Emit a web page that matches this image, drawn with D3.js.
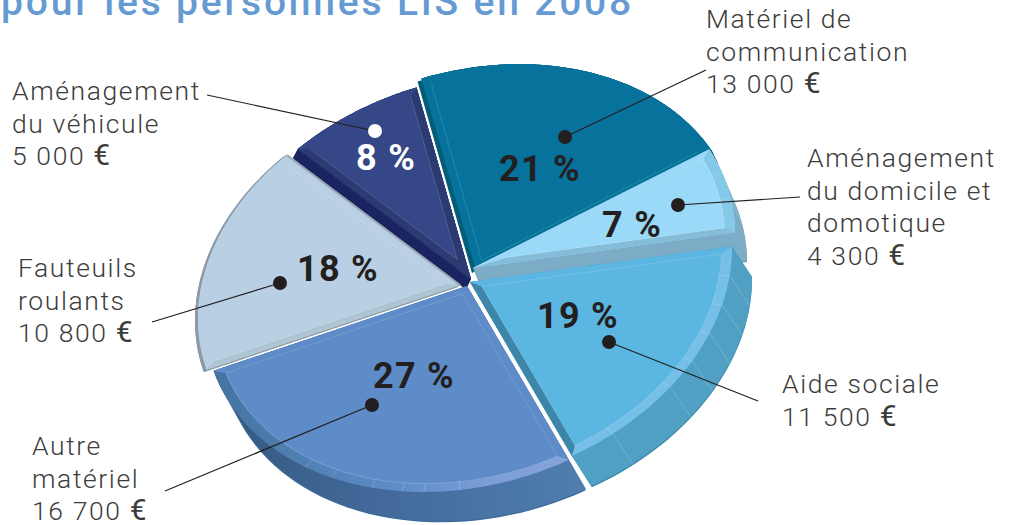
<!DOCTYPE html>
<html>
<head>
<meta charset="utf-8">
<script src="https://cdn.jsdelivr.net/npm/d3@7"></script>
<style>
html, body { margin: 0; padding: 0; background: #fff; overflow: hidden; }
text { font-family: Roboto, sans-serif; }
</style>
</head>
<body>
<svg id="chart" width="1013" height="525"></svg>
<script>
// data
var categories = [
    ["Matériel de", "communication"],
    ["Aménagement", "du domicile et", "domotique"],
    ["Aide sociale"],
    ["Autre", "matériel"],
    ["Fauteuils", "roulants"],
    ["Aménagement", "du véhicule"]
];
var amounts = [13000, 4300, 11500, 16700, 10800, 5000];
var percents = [21, 7, 19, 27, 18, 8];
var titleText = "pour les personnes LIS en 2008";

// layout of each slice
var apex = [[476, 270], [473, 268], [470, 282], [467, 286], [460, 285], [471, 279]];
var sweeps = [[6, 12], [12, 28], [20, 30], [17, 29], [-3, 1], [-5, 9]];
var labelPos = [[706, 28], [807, 167], [782, 393], [32, 455], [18, 277], [12, 100]];
var pctPos = [[540, 168], [632, 224], [578, 315], [414, 375], [338, 268], [386, 157]];
var dotPos = [[565, 137], [678, 205], [609, 342], [372, 405], [280, 283], [375, 131]];
var leaderEnd = [[706, 70], [800, 197], [758, 401], [165, 491], [152, 322], [207, 95]];
var drawOrder = [5, 0, 1, 4, 2, 3];

// colours: face, start band, end band, arc band, side, side edge, lip
var faceColor = ["#07729b", "#9bd9f8", "#5bb6e2", "#5d8cc8", "#b9cfe4", "#354786"];
var startBand = ["#07729b", "#9bd9f8", "#5bb6e2", "#5d8cc8", "#aec5d4", "#2c3a72"];
var endBand = ["#07729b", "#85bcd8", "#3d86a8", "#5d8cc8", "#b9cfe4", "#2c3a72"];
var arcBand = ["#07729b", "#85c9e8", "#76bfe6", "url(#band27)", "#b9cfe4", "#354786"];
var sideColor = ["#045d78", "#7cacc6", "#50a0c4", "url(#side27)", "#8d9aa6", "#1a2460"];
var sideEdge = ["#045d78", "#6f9cb6", "#3a87a8", "#3f6a9c", "#8d9aa6", "#1a2460"];
var facets = [[], [.3, .6], [.12, .24, .36, .48, .6, .85], [.25, .33, .38, .45, .55, .62], [], []];
var wallFacets = [false, true, true, false, false, false];
var arcLine = [false, true, true, true, false, false];
var lip = [[-4, 3, "#045d78"], null, null, null, null, null];

var rx = 262, ry = 203, shear = -34;   // the tilted ellipse of the pie
var insetEdge = 0.03, insetArc = 0.04;

var svg = d3.select("#chart");
var defs = svg.append("defs");
function gradient(id, stops) {
    var g = defs.append("linearGradient").attr("id", id)
        .attr("gradientUnits", "userSpaceOnUse")
        .attr("x1", 215).attr("x2", 575).attr("y1", 0).attr("y2", 0);
    stops.forEach(function(s) {
        g.append("stop").attr("offset", s[0]).attr("stop-color", s[1]);
    });
}
gradient("band27", [[0, "#44749f"], [0.5, "#5d8cc8"], [0.75, "#7b9dd6"], [1, "#86a5d9"]]);
gradient("side27", [[0, "#34597f"], [0.45, "#42699a"], [1, "#4f7dae"]]);

var pie = d3.pie().sort(null)
    .startAngle(-12 * Math.PI / 180)
    .endAngle(348 * Math.PI / 180);
var slices = pie(amounts);
var line = d3.line();

function project(i, r, a) {
    var X = r * Math.sin(a), Y = -r * Math.cos(a);
    return [apex[i][0] + rx * X, apex[i][1] + shear * X + ry * Y];
}
function arcPoints(i, r, a0, a1) {
    return d3.range(0, 41).map(function(k) {
        return project(i, r, a0 + (a1 - a0) * k / 40);
    });
}
function poly(pts, fill) {
    return svg.append("path").attr("d", line(pts) + "Z").attr("fill", fill);
}
function thin(p, q, color, opacity, width) {
    svg.append("line")
        .attr("x1", p[0]).attr("y1", p[1]).attr("x2", q[0]).attr("y2", q[1])
        .attr("stroke", color).attr("stroke-opacity", opacity).attr("stroke-width", width);
}

drawOrder.forEach(function(i) {
    var a0 = slices[i].startAngle, a1 = slices[i].endAngle, mid = (a0 + a1) / 2;
    var half = (a1 - a0) / 2;
    var A = project(i, 0, 0);
    var outer = arcPoints(i, 1, a0, a1);
    var sector = [A].concat(outer);
    var v = sweeps[i];

    // the wall of the slice is the sector swept along the thickness
    function swept(dx, dy) {
        var moved = sector.map(function(p) { return [p[0] + dx, p[1] + dy]; });
        return d3.polygonHull(sector.concat(moved));
    }
    poly(swept(v[0], v[1] + 1.5), sideEdge[i]);
    poly(swept(v[0], v[1]), sideColor[i]);
    if (wallFacets[i]) facets[i].forEach(function(f) {
        var p = project(i, 1, a0 + (a1 - a0) * f);
        thin(p, [p[0] + v[0], p[1] + v[1]], "#fff", .3, .6);
    });
    if (lip[i]) {
        poly(sector.map(function(p) { return [p[0] + lip[i][0], p[1] + lip[i][1]]; }), lip[i][2]);
    }

    // top of the slice with its chamfer
    var ri = 1 - insetArc;
    var dA = Math.asin(insetEdge / ri);
    var inner = project(i, insetEdge / Math.sin(half), mid);
    var innerArc = arcPoints(i, ri, a0 + dA, a1 - dA);
    poly(sector, faceColor[i]);
    poly(outer.concat(innerArc.slice().reverse()), arcBand[i]);
    poly([A, outer[0], innerArc[0], inner], startBand[i]);
    poly([A, outer[40], innerArc[40], inner], endBand[i]);
    poly([inner].concat(innerArc), faceColor[i]);
    thin(inner, innerArc[0], "#fff", .25, .6);
    thin(inner, innerArc[40], "#fff", .25, .6);
    if (arcLine[i]) {
        svg.append("path").attr("d", line(innerArc)).attr("fill", "none")
            .attr("stroke", "#fff").attr("stroke-opacity", .3).attr("stroke-width", .6);
    }
    facets[i].forEach(function(f) {
        var a = a0 + (a1 - a0) * f;
        thin(project(i, 1, a), project(i, ri, a), "#fff", .3, .6);
    });
    if (i == 4) thin(A, outer[40], "#9aa9b5", 1, 2);
});

// leaders, dots, percents
percents.forEach(function(p, i) {
    var white = i == 5;
    thin(dotPos[i], leaderEnd[i], "#231f20", 1, 1.2);
    svg.append("circle")
        .attr("cx", dotPos[i][0]).attr("cy", dotPos[i][1]).attr("r", 7)
        .attr("fill", white ? "#fff" : "#231f20");
    svg.append("text")
        .attr("x", pctPos[i][0]).attr("y", pctPos[i][1] + 13)
        .attr("text-anchor", "middle")
        .attr("font-size", 36).attr("font-weight", 700)
        .attr("letter-spacing", 1.3)
        .attr("fill", white ? "#fff" : "#231f20")
        .text(p + " %");
});

// labels
var euro = function(v) { return d3.format(",")(v).replace(",", " ") + " "; };
categories.forEach(function(lines, i) {
    lines.concat([euro(amounts[i])]).forEach(function(t, k) {
        var label = svg.append("text")
            .attr("x", labelPos[i][0]).attr("y", labelPos[i][1] + k * 32.7)
            .attr("font-size", 26.5).attr("font-weight", 300)
            .attr("letter-spacing", 1.6)
            .attr("fill", "#3c3c3b")
            .attr("xml:space", "preserve")
            .text(t);
        if (k == lines.length) {
            label.append("tspan").attr("font-size", 30).attr("font-weight", 400).text("€");
        }
    });
});

svg.append("text")
    .attr("x", 1).attr("y", 15)
    .attr("font-size", 39).attr("font-weight", 500)
    .attr("letter-spacing", 2.8)
    .attr("fill", "#659ad2")
    .text(titleText);
</script>
</body>
</html>
